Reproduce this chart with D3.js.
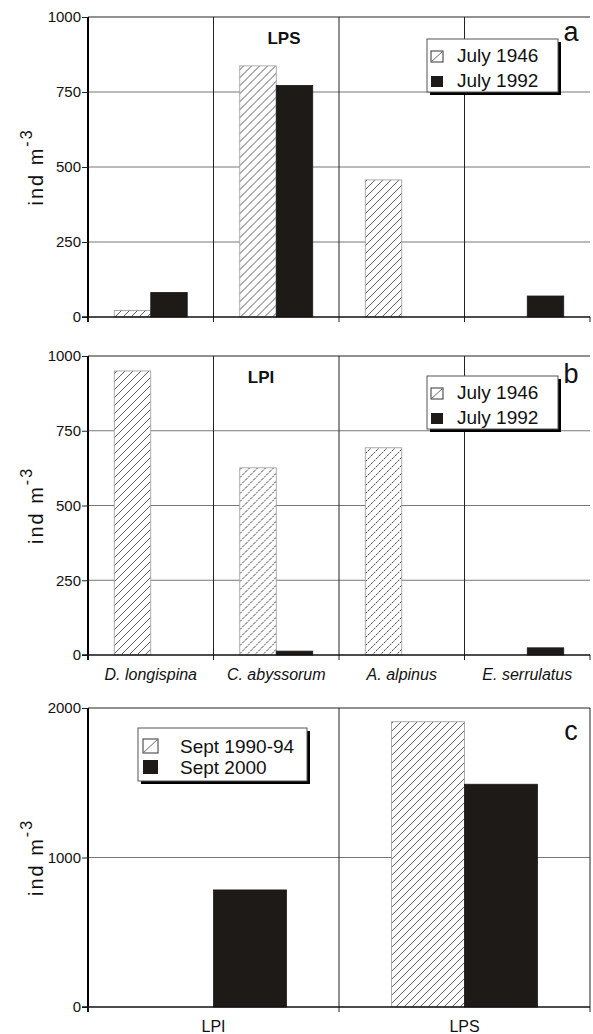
<!DOCTYPE html>
<html>
<head>
<meta charset="utf-8">
<script src="https://cdn.jsdelivr.net/npm/d3@7"></script>
<style>
  body { margin: 0; background: #fff; }
  text { font-family: "Liberation Sans", Arial, sans-serif; }
</style>
</head>
<body>
<div id="chart"></div>
<script>
var speciesCats = ["D. longispina", "C. abyssorum", "A. alpinus", "E. serrulatus"];
var lpsJuly1946 = [22, 837, 457, 0];
var lpsJuly1992 = [82, 772, 0, 70];
var lpiJuly1946 = [950, 626, 693, 0];
var lpiJuly1992 = [0, 13, 0, 24];
var lakeCats = ["LPI", "LPS"];
var sept199094 = [0, 1908];
var sept2000 = [783, 1490];
var ticksAB = [0, 250, 500, 750, 1000];
var ticksC = [0, 1000, 2000];

var W = 593, H = 1034;
var left = 88, right = 590;
var black = "#1e1a17";

var svg = d3.select("#chart").append("svg")
  .attr("width", W).attr("height", H);

var defs = svg.append("defs");
function hatch(id, dash, col){
  var p = defs.append("pattern")
    .attr("id", id)
    .attr("patternUnits", "userSpaceOnUse")
    .attr("width", 8).attr("height", 8);
  p.append("rect").attr("width", 8).attr("height", 8).attr("fill", "#fff");
  p.append("path")
    .attr("d", "M0,8 L8,0 M-2,2 L2,-2 M6,10 L10,6")
    .attr("stroke", col)
    .attr("stroke-width", 0.8)
    .attr("stroke-dasharray", dash);
}
hatch("hatch", null, "#333");
hatch("hatchDot", "2.5,1", "#111");

// one panel
function panel(opt){
  var g = svg.append("g");
  var y = d3.scaleLinear().domain([0, opt.max]).range([opt.bottom, opt.top]);
  var x = d3.scaleBand().domain(opt.cats).range([left, right]);
  var xs = d3.scaleBand().domain(["s1", "s2"]).range([0, x.bandwidth()]).paddingOuter(0.72);

  // grid
  g.append("g").selectAll("line")
    .data(opt.ticks.slice(1, -1))
    .enter().append("line")
    .attr("x1", left).attr("x2", right)
    .attr("y1", d => y(d)).attr("y2", d => y(d))
    .attr("stroke", "#777").attr("stroke-width", 1);
  g.append("line")
    .attr("x1", left).attr("x2", right)
    .attr("y1", y(opt.max)).attr("y2", y(opt.max))
    .attr("stroke", "#222").attr("stroke-width", 1);
  g.append("g").selectAll("line")
    .data(opt.cats.slice(1))
    .enter().append("line")
    .attr("x1", d => x(d)).attr("x2", d => x(d))
    .attr("y1", opt.top).attr("y2", opt.bottom + 5)
    .attr("stroke", "#222").attr("stroke-width", 1);
  if (opt.box){
    g.append("line")
      .attr("x1", right).attr("x2", right)
      .attr("y1", opt.top).attr("y2", opt.bottom + 5)
      .attr("stroke", "#222");
  } else {
    g.append("line")
      .attr("x1", right).attr("x2", right)
      .attr("y1", opt.bottom).attr("y2", opt.bottom + 5)
      .attr("stroke", "#222");
  }

  // bars
  var rows = opt.cats.map(function(c, i){
    return [
      {cat: c, s: "s1", v: opt.s1[i], dot: opt.dots && opt.dots[i]},
      {cat: c, s: "s2", v: opt.s2[i]}
    ];
  });
  g.append("g").selectAll("g")
    .data(rows).enter().append("g")
    .attr("transform", d => "translate(" + x(d[0].cat) + ",0)")
    .selectAll("rect")
    .data(d => d.filter(e => e.v > 0))
    .enter().append("rect")
    .attr("x", d => xs(d.s))
    .attr("width", xs.bandwidth())
    .attr("y", d => y(d.v))
    .attr("height", d => y(0) - y(d.v))
    .attr("fill", d => d.s == "s2" ? black : (d.dot ? "url(#hatchDot)" : "url(#hatch)"))
    .attr("stroke", d => d.s == "s2" ? black : "#999")
    .attr("stroke-width", 0.8);

  // axes
  var ya = g.append("g")
    .attr("transform", "translate(" + left + ",0)")
    .call(d3.axisLeft(y).tickValues(opt.ticks).tickSize(6).tickPadding(1).tickFormat(d3.format("d")));
  ya.select(".domain").attr("d", "M0," + opt.top + "V" + opt.bottom).attr("stroke", "#000").attr("stroke-width", 2);
  ya.selectAll(".tick line").attr("stroke", "#222");
  ya.selectAll(".tick text").attr("font-size", 15).attr("fill", "#111")
    .style("font-family", "'Liberation Sans', Arial, sans-serif");

  g.append("line")
    .attr("x1", left - 6).attr("x2", right)
    .attr("y1", y(0)).attr("y2", y(0))
    .attr("stroke", "#111").attr("stroke-width", 1.5);
  g.append("line")
    .attr("x1", left).attr("x2", left)
    .attr("y1", y(0)).attr("y2", y(0) + 5)
    .attr("stroke", "#111").attr("stroke-width", 2);

  if (opt.xlabels){
    g.append("g").selectAll("text")
      .data(opt.cats).enter().append("text")
      .attr("x", d => x(d) + x.bandwidth() / 2)
      .attr("y", opt.xlabelY)
      .attr("text-anchor", "middle")
      .attr("font-size", opt.xlabelSize)
      .attr("font-style", opt.italic ? "italic" : "normal")
      .attr("fill", "#111")
      .text(d => d);
  }

  // y label
  var yl = g.append("text")
    .attr("transform", "translate(43," + ((opt.top + opt.bottom) / 2) + ") rotate(-90)")
    .attr("text-anchor", "middle")
    .attr("font-size", 20)
    .attr("letter-spacing", 2)
    .attr("fill", "#111");
  yl.append("tspan").text("ind m");
  yl.append("tspan").attr("dy", -11).attr("font-size", 16).text("-3");

  // title & panel letter
  if (opt.title){
    g.append("text")
      .attr("x", opt.title[1]).attr("y", opt.title[2])
      .attr("text-anchor", "middle")
      .attr("font-size", 17).attr("font-weight", "bold")
      .attr("fill", "#111")
      .text(opt.title[0]);
  }
  g.append("text")
    .attr("x", 571).attr("y", opt.letterY)
    .attr("text-anchor", "middle")
    .attr("font-size", 27)
    .attr("fill", "#111")
    .text(opt.letter);

  // legend
  var L = opt.legend;
  var lg = g.append("g").attr("transform", "translate(" + L.x + "," + L.y + ")");
  lg.append("rect").attr("x", 3).attr("y", 3).attr("width", L.w).attr("height", L.h).attr("fill", "#000");
  lg.append("rect").attr("width", L.w).attr("height", L.h)
    .attr("fill", "#fff").attr("stroke", "#555").attr("stroke-width", 1);
  L.names.forEach(function(n, i){
    var ry = L.row0 + i * L.rowH;
    if (i == 0){
      lg.append("rect").attr("x", L.sx).attr("y", ry - L.sw + 1).attr("width", L.sw).attr("height", L.sw - 1)
        .attr("fill", "#fff").attr("stroke", "#333").attr("stroke-width", 1);
      lg.append("line").attr("x1", L.sx).attr("y1", ry).attr("x2", L.sx + L.sw).attr("y2", ry - L.sw + 1)
        .attr("stroke", "#666");
    } else {
      lg.append("rect").attr("x", L.sx).attr("y", ry - L.sw + 1).attr("width", L.sw).attr("height", L.sw - 1)
        .attr("fill", black);
    }
    lg.append("text").attr("x", L.tx).attr("y", ry)
      .attr("font-size", L.fs).attr("fill", "#111").text(n);
  });
}

panel({
  cats: speciesCats, s1: lpsJuly1946, s2: lpsJuly1992,
  max: 1000, ticks: ticksAB, top: 17, bottom: 317,
  title: ["LPS", 284, 44], letter: "a", letterY: 41,
  legend: {x: 427, y: 39, w: 131, h: 53, names: ["July 1946", "July 1992"],
           row0: 23, rowH: 25, sx: 4, sw: 12, tx: 30, fs: 19}
});

panel({
  cats: speciesCats, s1: lpiJuly1946, s2: lpiJuly1992, dots: [false, true, true, false],
  max: 1000, ticks: ticksAB, top: 356, bottom: 655,
  title: ["LPI", 261, 383], letter: "b", letterY: 383,
  xlabels: true, xlabelY: 680, xlabelSize: 16, italic: true,
  legend: {x: 427, y: 376, w: 131, h: 53, names: ["July 1946", "July 1992"],
           row0: 23, rowH: 25, sx: 4, sw: 12, tx: 30, fs: 19}
});

panel({
  cats: lakeCats, s1: sept199094, s2: sept2000,
  max: 2000, ticks: ticksC, top: 708, bottom: 1007, box: true,
  letter: "c", letterY: 740,
  xlabels: true, xlabelY: 1032, xlabelSize: 16, italic: false,
  legend: {x: 138, y: 728, w: 169, h: 53, names: ["Sept 1990-94", "Sept 2000"],
           row0: 25, rowH: 21, sx: 5, sw: 15, tx: 42, fs: 19}
});
</script>
</body>
</html>
